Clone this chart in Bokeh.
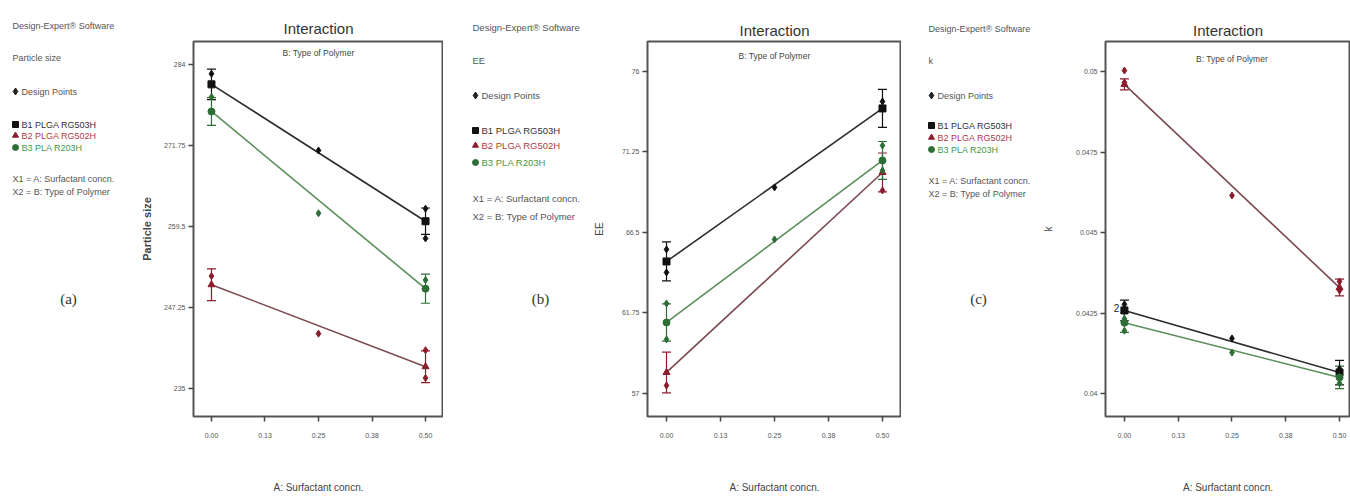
from bokeh.plotting import figure
from bokeh.layouts import row
from bokeh.models import Range1d, FixedTicker, Whisker, TeeHead, ColumnDataSource, Label
from bokeh.core.properties import value
from bokeh.embed import file_html
from bokeh.resources import INLINE

# ---------------- data ----------------
levels = [0.0, 0.5]                      # A: Surfactant concn. end levels
x_ticks = [0.0, 0.125, 0.25, 0.375, 0.5]
x_tick_labels = ["0.00", "0.13", "0.25", "0.38", "0.50"]
series_names = ["B1 PLGA RG503H", "B2 PLGA RG502H", "B3 PLA R203H"]

# (a) Particle size
ps_ticks = [235, 247.25, 259.5, 271.75, 284]
ps_tick_labels = ["235", "247.25", "259.5", "271.75", "284"]
ps_fit = [[281.0, 260.3], [250.7, 238.3], [276.9, 250.1]]
ps_err = [[2.3, 2.0], [2.4, 2.4], [2.1, 2.2]]
ps_pts_x = [[0.0, 0.25, 0.5, 0.5], [0.0, 0.25, 0.5, 0.5], [0.0, 0.25, 0.5]]
ps_pts_y = [[282.6, 271.0, 262.2, 257.7], [252.0, 243.3, 240.8, 236.6], [279.1, 261.5, 251.4]]

# (b) EE
ee_ticks = [57, 61.75, 66.5, 71.25, 76]
ee_tick_labels = ["57", "61.75", "66.5", "71.25", "76"]
ee_fit = [[64.79, 73.82], [58.24, 70.04], [61.19, 70.75]]
ee_err = [[1.15, 1.12], [1.2, 1.15], [1.1, 1.12]]
ee_pts_x = [[0.0, 0.0, 0.25, 0.5], [0.0, 0.5], [0.0, 0.0, 0.25, 0.5, 0.5]]
ee_pts_y = [[65.5, 64.14, 69.16, 74.23], [57.47, 68.98], [62.31, 60.19, 66.09, 71.63, 70.16]]

# (c) k
k_ticks = [0.04, 0.0425, 0.045, 0.0475, 0.05]
k_tick_labels = ["0.04", "0.0425", "0.045", "0.0475", "0.05"]
k_fit = [[0.04258, 0.04065], [0.04960, 0.04329], [0.04220, 0.04050]]
k_err = [[0.00032, 0.00038], [0.00017, 0.00026], [0.00030, 0.00035]]
k_pts_x = [[0.0, 0.25, 0.5, 0.5], [0.0, 0.0, 0.25, 0.5, 0.5], [0.0, 0.0, 0.25, 0.5]]
k_pts_y = [[0.04277, 0.04171, 0.04077, 0.04053],
           [0.05003, 0.04966, 0.04615, 0.04348, 0.04320],
           [0.04232, 0.04195, 0.04127, 0.04032]]

# ---------------- style ----------------
H = 496
FT, FB = 41, 416          # common frame top / bottom (pixels from top)
BL = 64                   # common left border
FONT = "Liberation Sans"
MARK_COL = ["#111111", "#8b1c2c", "#2d6e36"]
LINE_COL = ["#2b2b2b", "#7a4a50", "#5a8f5a"]
TEXT_COL = ["#333333", "#b03a48", "#3f9a4a"]
MARKERS = ["square", "triangle", "circle"]
GRAY = "#555555"


def legend_fig(width, x0, ys, response, tag, tag_x, fsize, head_standoff):
    p = figure(width=width, height=H, x_range=Range1d(0, width), y_range=Range1d(FB, FT),
               output_backend="svg", toolbar_location=None, min_border=0,
               x_axis_location=None, y_axis_location=None)
    p.grid.visible = False
    p.outline_line_color = None
    # header line sits above the frame, so it is the figure's title
    p.title.text = "Design-Expert\u00ae Software"
    p.title.align = "left"
    p.title.offset = x0
    p.title.text_font = FONT
    p.title.text_font_size = fsize
    p.title.text_font_style = "normal"
    p.title.text_color = GRAY
    p.title.standoff = head_standoff

    def txt(x, y, s, color=GRAY):
        p.add_layout(Label(x=x, y=y, text=s, text_font=FONT, text_font_size=fsize,
                           text_color=color, text_baseline="middle", text_align="left"))

    txt(x0, ys[0], response)
    p.scatter([x0 + 3], [ys[1]], marker="diamond", size=7, color="#222222")
    txt(x0 + 9, ys[1], "Design Points")
    for i in range(3):
        p.scatter([x0 + 3], [ys[2 + i]], marker=MARKERS[i], size=6, color=MARK_COL[i])
        txt(x0 + 9, ys[2 + i], series_names[i], color=TEXT_COL[i])
    txt(x0, ys[5], "X1 = A: Surfactant concn.")
    txt(x0, ys[6], "X2 = B: Type of Polymer")
    p.add_layout(Label(x=tag_x, y=298, text=tag, text_font="Liberation Serif",
                       text_font_size="15px", text_color="#333333",
                       text_baseline="middle", text_align="center"))
    return p


def panel(width, xr, yr, yt, ylab, ytitle, ytitle_style, ytitle_size,
          ylab_standoff, fit, err, ptsx, ptsy, sub_y, title_standoff):
    p = figure(width=width, height=H, x_range=Range1d(*xr), y_range=Range1d(*yr),
               output_backend="svg", toolbar_location=None,
               min_border_left=BL, min_border_right=0, min_border_top=FT,
               min_border_bottom=H - FB)
    p.title.text = "Interaction"
    p.title.align = "center"
    p.title.text_font = FONT
    p.title.text_font_size = "15px"
    p.title.text_font_style = "normal"
    p.title.text_color = "#333333"
    p.title.standoff = title_standoff
    p.grid.visible = False
    p.outline_line_color = "#555555"
    p.outline_line_width = 2

    p.xaxis.ticker = FixedTicker(ticks=x_ticks)
    p.xaxis.major_label_overrides = {t: l for t, l in zip(x_ticks, x_tick_labels)}
    p.yaxis.ticker = FixedTicker(ticks=yt)
    p.yaxis.major_label_overrides = {t: l for t, l in zip(yt, ylab)}
    for ax in (p.xaxis[0], p.yaxis[0]):
        ax.axis_line_color = None
        ax.major_tick_out = 5
        ax.major_tick_in = 0
        ax.major_tick_line_color = "#444444"
        ax.major_tick_line_width = 1.5
        ax.minor_tick_line_color = None
        ax.major_label_text_font = FONT
        ax.major_label_text_font_size = "7px"
        ax.major_label_text_color = "#555555"
    p.xaxis.major_label_standoff = 11
    p.xaxis.axis_label = "A: Surfactant concn."
    p.xaxis.axis_label_text_font = FONT
    p.xaxis.axis_label_text_font_size = "10px"
    p.xaxis.axis_label_text_font_style = "normal"
    p.xaxis.axis_label_text_color = "#444444"
    p.xaxis.axis_label_standoff = 41
    p.yaxis.major_label_standoff = 3
    p.yaxis.axis_label = ytitle
    p.yaxis.axis_label_text_font = FONT
    p.yaxis.axis_label_text_font_size = ytitle_size
    p.yaxis.axis_label_text_font_style = ytitle_style
    p.yaxis.axis_label_text_color = "#444444"
    p.yaxis.axis_label_standoff = ylab_standoff

    p.add_layout(Label(x=0.25, y=sub_y, text="B: Type of Polymer", text_font=FONT,
                       text_font_size="8.5px", text_color="#444444",
                       text_align="center", text_baseline="middle"))

    for i in range(3):
        c = MARK_COL[i]
        p.line(levels, fit[i], line_color=LINE_COL[i], line_width=1.6)
        src = ColumnDataSource(dict(base=levels,
                                    upper=[f + e for f, e in zip(fit[i], err[i])],
                                    lower=[f - e for f, e in zip(fit[i], err[i])]))
        p.add_layout(Whisker(source=src, base="base", upper="upper", lower="lower",
                             dimension="height", line_color=c, line_width=1.2,
                             upper_head=TeeHead(size=9, line_color=c, line_width=1.2),
                             lower_head=TeeHead(size=9, line_color=c, line_width=1.2)))
        p.scatter(levels, fit[i], marker=MARKERS[i], size=7, color=c)
        p.scatter(ptsx[i], ptsy[i], marker="diamond", size=7, color=c)
    return p


leg_a = legend_fig(129, 12, [57, 91, 124, 135, 147, 178, 191], "Particle size", "(a)", 68, "9px", 21)
pa = panel(314, (-0.042, 0.542), (230.77, 287.48), ps_ticks, ps_tick_labels,
           "Particle size", "bold", "11px", 8, ps_fit, ps_err, ps_pts_x, ps_pts_y, 285.7, 10)
leg_b = legend_fig(140, 29, [60, 95, 130, 145, 162, 198, 216], "EE", "(b)", 97, "9.5px", 17)
pb = panel(318, (-0.044, 0.544), (55.64, 77.77), ee_ticks, ee_tick_labels,
           "EE", "normal", "10px", 14, ee_fit, ee_err, ee_pts_x, ee_pts_y, 76.94, 6)
leg_c = legend_fig(139, 27, [60, 95, 125, 137, 149, 180, 193], "k", "(c)", 77, "9px", 16)
pc = panel(310, (-0.044, 0.5255), (0.039286, 0.050932), k_ticks, k_tick_labels,
           "k", "normal", "10px", 19, k_fit, k_err, k_pts_x, k_pts_y, 0.0504, 6)
pc.add_layout(Label(x=-0.012, y=0.04267, text="2", text_font=FONT, text_font_size="10px",
                    text_color="#222222", text_align="right", text_baseline="middle"))

layout = row(leg_a, pa, leg_b, pb, leg_c, pc, spacing=0)
open("out.html", "w").write(file_html(layout, INLINE))
